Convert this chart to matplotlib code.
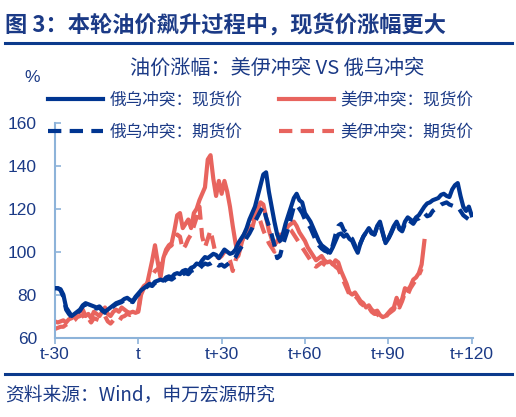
import numpy as np
import matplotlib
matplotlib.use("Agg")
from matplotlib import pyplot as plt

plt.rcParams['font.family'] = ['Noto Sans CJK SC', 'DejaVu Sans']

# 数据：横轴为相对冲突爆发日 t 的天数
ru_days = np.arange(-30, 121)
ru_spot = [83, 83, 82.5, 80, 74, 72, 70, 71, 72, 73,
           75, 76, 75.5, 75, 74.5, 74, 74.5, 73, 72, 73,
           74, 75, 76, 76.5, 77, 78, 78.5, 77.5, 77, 79,
           80.5, 82, 83, 84, 85, 84.5, 86, 86.5, 87, 86.5,
           88, 88.5, 88, 89.5, 90, 89.5, 91, 91.5, 91, 92.5,
           93, 94.5, 94, 96, 97.5, 97, 98, 99, 98.5, 97,
           99, 101, 100, 99, 99.5, 101, 104, 106, 108, 111,
           115, 118, 121, 126, 131, 136, 137, 128, 121, 114,
           108, 105, 108, 113, 117, 121, 125, 127, 124, 123,
           118, 116, 114, 111, 108, 105, 103, 102, 101, 99.5,
           102, 105, 108, 108.5, 107, 108, 106, 105, 102, 99.5,
           104, 107, 109, 111, 109, 108, 112, 114, 109, 104,
           106, 109, 112, 114, 111, 110, 114, 116, 115, 114,
           116, 117, 119, 121, 122.5, 123, 124, 124.5, 125, 126.5,
           127, 126, 125.5, 129, 131, 132, 126, 121, 119, 121,
           117]
ru_fut = [83, 83, 82, 79, 73, 71, 69.5, 70.5, 71.5, 72.5,
          74.5, 75.5, 75, 74.5, 74, 73.5, 74, 72.5, 71.5, 72.5,
          73.5, 74.5, 75.5, 76, 76.5, 77.5, 78, 77, 76.5, 78.5,
          80, 81.5, 82.5, 83.5, 84.5, 84, 85.5, 86, 86.5, 86,
          87, 87.5, 87, 88, 88.5, 88, 89.5, 90, 89.5, 91,
          91.5, 92.5, 92, 93.5, 94.5, 94, 94.5, 95.5, 94.5, 93.5,
          94, 93, 94, 95, 96, 97.5, 100, 102, 104, 106.5,
          108.5, 111, 114, 116.5, 119, 121, 116, 112, 108, 103,
          97, 98, 103, 107, 111, 116, 121, 122, 120, 118,
          115, 113, 111, 108, 105, 103, 101.5, 100.5, 100, 99,
          103, 108, 112, 113, 110, 109, 107, 106, 103, 100,
          104, 107, 109, 110.5, 108.5, 108, 111.5, 113, 108.5, 104,
          106, 108.5, 111.5, 113.5, 110.5, 109.5, 113, 115, 114, 113,
          115, 115.5, 117, 118, 116.5, 117, 119, 120, 121, 122,
          122.5, 123, 122, 121.5, 121, 121, 119, 117, 116, 115,
          113]

ir_days = np.arange(-30, 104)
ir_spot = [67.5, 67, 67.5, 68, 67, 68.5, 69, 70, 71.5, 72,
           73, 70, 71, 69, 72, 71, 70, 72, 74, 71,
           70, 72, 73, 72, 74, 73, 72, 71.5, 72, 71.5,
           72, 80, 83, 84, 90, 96, 103, 95, 88, 97,
           101, 103, 104, 110, 117, 118, 111, 113, 115, 111,
           118, 120, 124, 127, 130, 143, 145, 134, 126, 133,
           127, 133, 128, 121, 112, 104, 98, 103, 108, 110,
           112, 111, 116, 120, 123, 122, 116, 110, 106, 103,
           105, 108, 106, 110, 112, 113, 114, 112, 109, 107,
           105, 102, 100, 98, 96, 97, 98, 96, 95, 95.5,
           94, 96, 95, 91, 88, 85, 81, 80, 81, 79,
           77, 76, 74, 75, 73, 72, 72.5, 70.5, 69.5, 70,
           71.5, 73, 74, 78.5, 75, 78, 83, 82, 84, 87,
           88, 90, 94, 105]
ir_fut = [64, 64.5, 65, 65, 66, 66.5, 67, 68, 69.5, 70,
          70.5, 68, 69, 67, 69, 68.5, 68, 69, 70, 67.5,
          66.5, 68, 68.5, 67.5, 69.5, 70, 71, 70.5, 71, 71,
          73, 82, 84, 85, 87, 89, 91, 92, 94, 97,
          100, 102, 103, 106, 108, 107, 101, 103, 106, 108,
          112, 116, 121, 107, 102, 106, 110, 104, 98, 97,
          98, 100, 99, 96, 91, 96, 99, 104, 107, 110,
          113, 116, 119, 117, 114, 110, 107, 104, 102, 100,
          103, 106, 108, 110, 111, 110, 108, 106, 104, 102,
          100, 98, 96, 94, 93, 94, 95, 94, 93, 94,
          94.5, 93, 92, 89, 86, 83, 80, 79, 79.5, 78,
          76, 75, 73, 74, 72, 71, 71, 69.5, 69, 69.5,
          71, 72, 73, 76, 74, 77, 81, 80, 83, 85,
          87, 89, 92]

x_ticks = [-30, 0, 30, 60, 90, 120]
x_labels = ["t-30", "t", "t+30", "t+60", "t+90", "t+120"]
y_ticks = [60, 80, 100, 120, 140, 160]

BLUE = "#003591"
RED = "#E8645E"
TEXT = "#1B3A86"
AXIS = "#8DB3D9"

W, H = 516, 417
fig = plt.figure(figsize=(W / 100, H / 100), dpi=100)

# 坐标区（按像素定位）
left, right, top, bottom = 55, 473, 123, 337.5
ax = fig.add_axes([left / W, 1 - bottom / H, (right - left) / W, (bottom - top) / H])

lw = 3.0
ax.plot(ru_days[:len(ru_spot)], ru_spot, color=BLUE, lw=lw, label="俄乌冲突：现货价", zorder=3)
ax.plot(ru_days[:len(ru_fut)], ru_fut, color=BLUE, lw=lw, ls=(0, (3.2, 2)), label="俄乌冲突：期货价", zorder=3)
ax.plot(ir_days[:len(ir_spot)], ir_spot, color=RED, lw=lw, label="美伊冲突：现货价", zorder=2)
ax.plot(ir_days[:len(ir_fut)], ir_fut, color=RED, lw=lw, ls=(0, (3.2, 2)), label="美伊冲突：期货价", zorder=2)

ax.set_xlim(-30, 120.5)
ax.set_ylim(60, 160)
ax.set_xticks(x_ticks)
ax.set_xticklabels(x_labels)
ax.set_yticks(y_ticks)
for s in ["top", "right"]:
    ax.spines[s].set_visible(False)
for s in ["left", "bottom"]:
    ax.spines[s].set_color(AXIS)
    ax.spines[s].set_linewidth(1.5)
ax.tick_params(axis="x", direction="out", length=4, width=1.2, color=AXIS,
               labelsize=12.5, labelcolor=TEXT, pad=3)
ax.tick_params(axis="y", direction="in", length=4, width=1.2, color=AXIS,
               labelsize=12.5, labelcolor=TEXT, pad=13)
for lab in ax.get_xticklabels() + ax.get_yticklabels():
    lab.set_family(["Liberation Sans", "DejaVu Sans"])

# 图例
fig.legend(loc="upper left", bbox_to_anchor=(48 / W, 1 - 91.5 / H), ncol=2,
           frameon=False, fontsize=12, labelcolor=TEXT, handlelength=3.3,
           handletextpad=0.4, columnspacing=2.15, labelspacing=0.9,
           borderaxespad=0, borderpad=0)

# 标题与说明文字
fig.text(5 / W, 1 - 25 / H, "图 3：本轮油价飙升过程中，现货价涨幅更大",
         fontsize=16, fontweight="bold", color=TEXT, va="center", ha="left")
fig.add_artist(plt.Line2D([5 / W, 512 / W], [1 - 43 / H, 1 - 43 / H], color="#0B3A8C", lw=2.2))
fig.text(277 / W, 1 - 68 / H, "油价涨幅：美伊冲突 VS 俄乌冲突",
         fontsize=14.5, color=TEXT, va="center", ha="center")
fig.text(32 / W, 1 - 77 / H, "%", fontsize=12.5, color=TEXT, va="center", ha="center",
         family=["Liberation Sans", "DejaVu Sans"])
fig.add_artist(plt.Line2D([5 / W, 512 / W], [1 - 373.5 / H, 1 - 373.5 / H], color="#0B3A8C", lw=2.2))
fig.text(5 / W, 1 - 395 / H, "资料来源：Wind，申万宏源研究",
         fontsize=13.5, color=TEXT, va="center", ha="left")

fig.savefig("out.png", dpi=100)
